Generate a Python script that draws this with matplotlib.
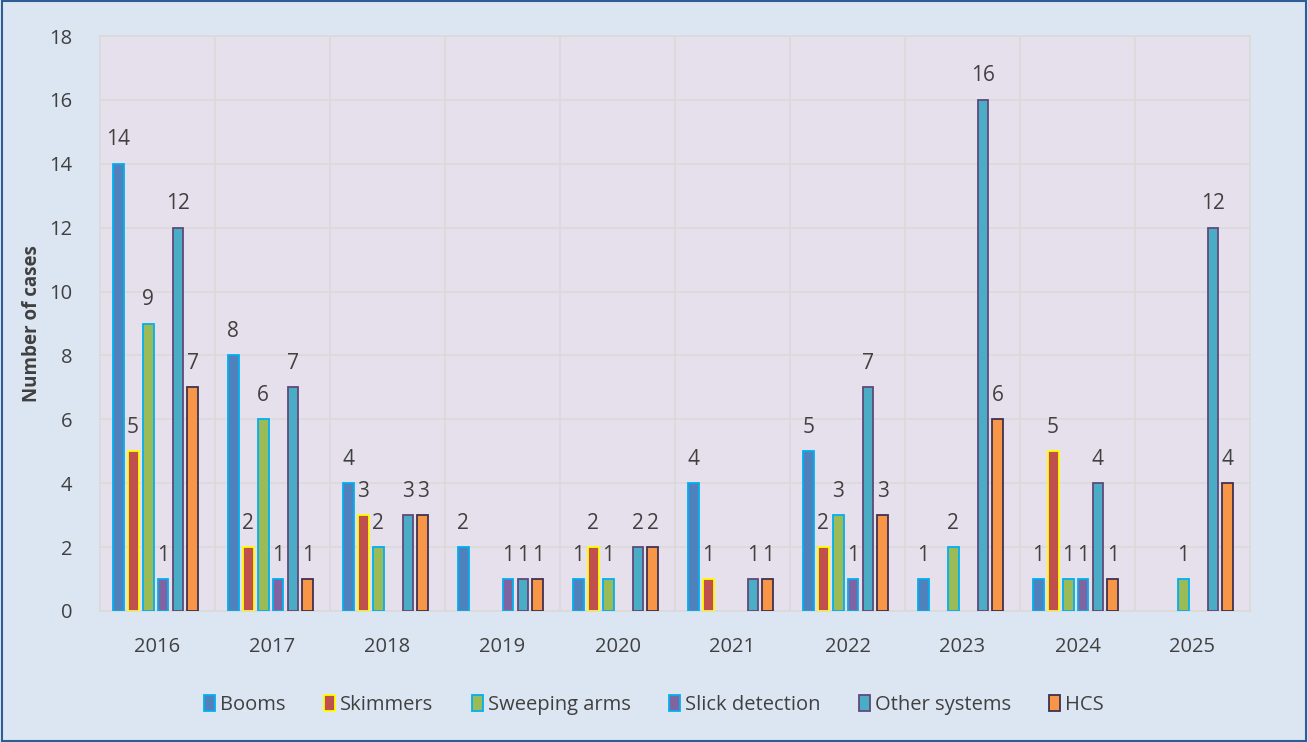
import numpy as np
import matplotlib.pyplot as plt
from matplotlib.patches import Rectangle, Patch

plt.rcParams['font.family'] = ['Open Sans', 'DejaVu Sans']

years = ['2016', '2017', '2018', '2019', '2020', '2021', '2022', '2023', '2024', '2025']
series = ['Booms', 'Skimmers', 'Sweeping arms', 'Slick detection', 'Other systems', 'HCS']
booms = [14, 8, 4, 2, 1, 4, 5, 1, 1, 0]
skimmers = [5, 2, 3, 0, 2, 1, 2, 0, 5, 0]
sweeping = [9, 6, 2, 0, 1, 0, 3, 2, 1, 1]
slick = [1, 1, 0, 1, 0, 0, 1, 0, 1, 0]
other = [12, 7, 3, 1, 2, 1, 7, 16, 4, 12]
hcs = [7, 1, 3, 1, 2, 1, 3, 6, 1, 4]

values = [booms, skimmers, sweeping, slick, other, hcs]
fills = ['#4F81BD', '#C0504D', '#9BBB59', '#8064A2', '#4BACC6', '#F79646']
edges = ['#00B0F0', '#FFFF00', '#00B0F0', '#00B0F0', '#604A7B', '#403152']

fig = plt.figure(figsize=(13.08, 7.42), dpi=100)
fig.patch.set_facecolor('#DCE6F2')
fig.patches.append(Rectangle((0.0015, 0.002), 0.997, 0.996, transform=fig.transFigure,
                             fill=False, edgecolor='#2E5C94', linewidth=1.5))

ax = fig.add_axes([100 / 1308, 1 - 611 / 742, 1150 / 1308, 575 / 742])
ax.set_facecolor('#E6E0EC')

x = np.arange(len(years))
pitch = 0.13
width = 0.095
for k, vals in enumerate(values):
    off = (k - 2.5) * pitch - 0.017
    for i, v in enumerate(vals):
        if v == 0:
            continue
        ax.bar(x[i] + off, v, width, color=fills[k], edgecolor=edges[k], linewidth=1.3, zorder=3)
        ax.text(x[i] + off, v + 0.42, str(v), ha='center', va='bottom', fontsize=15, color='#404040')

ax.set_xlim(-0.5, len(years) - 0.5)
ax.set_ylim(0, 18)
ax.set_yticks(range(0, 19, 2))
ax.set_xticks(x)
ax.set_xticklabels(years)
ax.tick_params(axis='both', length=0, labelsize=14.5, colors='#404040')
ax.tick_params(axis='x', pad=19)
ax.tick_params(axis='y', pad=20)
ax.set_ylabel('Number of cases', fontsize=13.5, fontweight='bold', color='#404040', labelpad=5)

ax.yaxis.grid(True, color='#D9D9D9', linewidth=1.2, zorder=0)
for b in np.arange(0.5, len(years) - 0.5, 1):
    ax.axvline(b, color='#D9D9D9', linewidth=1.2, zorder=0)
for s in ax.spines.values():
    s.set_color('#D9D9D9')
    s.set_linewidth(1.2)

handles = [Patch(facecolor=fills[k], edgecolor=edges[k], linewidth=1.3) for k in range(6)]
fig.legend(handles, series, loc='center', bbox_to_anchor=(0.5, 1 - 705 / 742), ncol=6,
           frameon=False, fontsize=14.5, handlelength=0.55, handleheight=0.8,
           handletextpad=0.25, columnspacing=1.9, labelcolor='#404040')

fig.savefig('out.png', dpi=100, facecolor=fig.get_facecolor())
